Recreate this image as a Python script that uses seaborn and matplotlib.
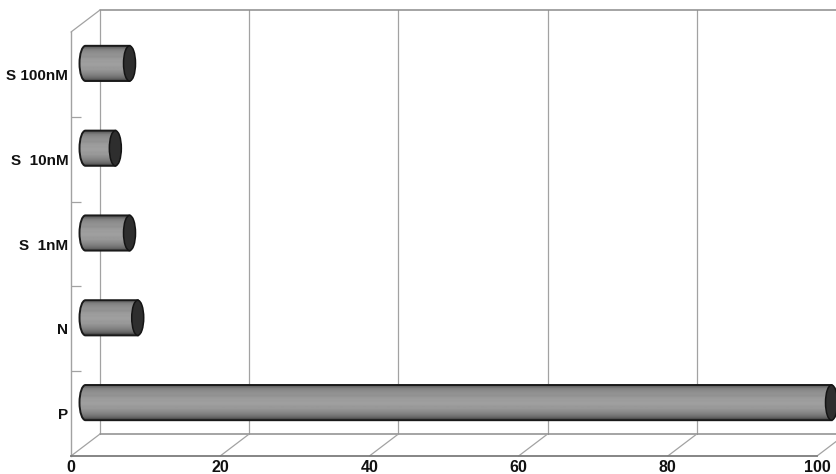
import numpy as np
import matplotlib
matplotlib.use('Agg')
import matplotlib.pyplot as plt
import seaborn as sns
import pandas as pd
from matplotlib.patches import Ellipse, PathPatch
from matplotlib.path import Path
from matplotlib.transforms import ScaledTranslation

# Valores
categorias = ['S 100nM', 'S  10nM', 'S  1nM', 'N', 'P']
valores = [5.9, 4.0, 5.9, 7.0, 100.0]
marcas_x = [0, 20, 40, 60, 80, 100]
tonos_cilindro = [0.30, 0.42, 0.50, 0.54, 0.56, 0.58, 0.57, 0.60, 0.62, 0.61,
                  0.63, 0.62, 0.60, 0.60, 0.57, 0.54, 0.50, 0.46, 0.40, 0.28]

sns.set_theme(style='white')
plt.rcParams['font.family'] = ['Liberation Sans', 'DejaVu Sans']

ANCHO, ALTO = 837, 474
fig = plt.figure(figsize=(ANCHO / 100, ALTO / 100), dpi=100)
ax = fig.add_axes([71 / ANCHO, (ALTO - 456) / ALTO, 746 / ANCHO, 424 / ALTO])


def desplazado(dx, dy):
    # corrimiento en pixeles para simular la profundidad
    return ax.transData + ScaledTranslation(dx / 100, dy / 100, fig.dpi_scale_trans)


df = pd.DataFrame({'categoria': categorias, 'valor': valores})
sns.barplot(data=df, y='categoria', x='valor', order=categorias, orient='h',
            color='#8a8a8a', width=0.415, saturation=1, ax=ax, zorder=3)
ax.set_xlim(0, 100)
ax.set_ylim(4.5, -0.5)
ax.set_xlabel('')
ax.set_ylabel('')
ax.set_xticks(marcas_x)
ax.set_yticks(range(len(categorias)))
ax.set_yticks(np.arange(0.5, 4.5, 1), minor=True)

GRIS = '#a2a2a2'
for lado in ['top', 'right']:
    ax.spines[lado].set_visible(False)
ax.spines['left'].set_color(GRIS)
ax.spines['left'].set_linewidth(1.0)
ax.spines['bottom'].set_color('#7c7c7c')
ax.spines['bottom'].set_linewidth(1.3)

ax.tick_params(axis='x', which='major', length=0, pad=3)
ax.tick_params(axis='y', which='major', length=0, pad=2)
ax.tick_params(axis='y', which='minor', length=7, width=0.9, color=GRIS, direction='in', left=True)
for t in ax.get_xticklabels():
    t.set_fontsize(11.5)
    t.set_fontweight('bold')
    t.set_color('#111111')
for t in ax.get_yticklabels():
    t.set_fontsize(11)
    t.set_fontweight('bold')
    t.set_color('#111111')

# Pared del fondo y piso
fondo = desplazado(29, 22)
estilo = dict(color=GRIS, lw=0.9, clip_on=False, zorder=1)
for m in marcas_x:
    ax.plot([m, m], [4.5, -0.5], transform=fondo, **estilo)
ax.plot([0, 104], [-0.5, -0.5], transform=fondo, color='#8c8c8c', lw=1.1, clip_on=False, zorder=1)
ax.plot([0, 104], [4.5, 4.5], transform=fondo, color='#8c8c8c', lw=1.1, clip_on=False, zorder=1)
esq = ax.transData.transform([[0, -0.5]])[0]
for m in marcas_x:
    fin = ax.transData.inverted().transform(ax.transData.transform([[m, 4.5]])[0] + [29, 22])
    ax.plot([m, fin[0]], [4.5, fin[1]], **estilo)
fin = ax.transData.inverted().transform(esq + [29, 22])
ax.plot([0, fin[0]], [-0.5, fin[1]], **estilo)

# Cilindros a partir de las barras de seaborn
medio = desplazado(14.5, 11)
ancho_tapa = 12 / (746 / 100)
degradado = np.array(tonos_cilindro).reshape(-1, 1)
for barra in ax.patches[:len(categorias)]:
    x1 = barra.get_width()
    y0, alto = barra.get_y(), barra.get_height()
    y1 = y0 + alto
    yc = y0 + alto / 2
    barra.set_transform(medio)
    barra.set_clip_on(False)
    barra.set_visible(False)
    k = 0.5523
    r = ancho_tapa / 2
    cuerpo = Path(
        [(0, y0), (x1, y0), (x1, y1), (0, y1),
         (-r * k, y1), (-r, yc + alto / 2 * k), (-r, yc),
         (-r, yc - alto / 2 * k), (-r * k, y0), (0, y0), (0, y0)],
        [Path.MOVETO, Path.LINETO, Path.LINETO, Path.LINETO,
         Path.CURVE4, Path.CURVE4, Path.CURVE4,
         Path.CURVE4, Path.CURVE4, Path.CURVE4, Path.CLOSEPOLY])
    imagen = ax.imshow(degradado, cmap='gray', vmin=0, vmax=1, aspect='auto',
                       interpolation='bilinear', extent=(-r, x1, y1, y0),
                       transform=medio, zorder=4)
    imagen.set_clip_path(PathPatch(cuerpo, transform=medio))
    imagen.set_clip_box(fig.bbox)
    ax.add_patch(PathPatch(cuerpo, transform=medio, facecolor='none', edgecolor='#1a1a1a',
                           lw=1.4, clip_on=False, zorder=5))
    ax.add_patch(Ellipse((x1, yc), ancho_tapa, alto, transform=medio, facecolor='#2e2e2e',
                         edgecolor='#141414', lw=1.1, clip_on=False, zorder=6))

ax.set_xlim(0, 100)
ax.set_ylim(4.5, -0.5)
ax.patch.set_alpha(0)

plt.savefig('out.png', dpi=100)
plt.close()
